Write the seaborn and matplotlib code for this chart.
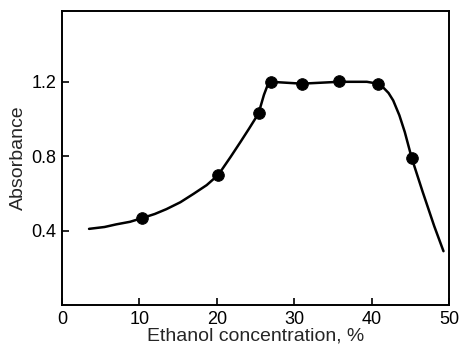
import matplotlib
matplotlib.use("Agg")
import matplotlib.pyplot as plt
import seaborn as sns
import pandas as pd

# measured points
ethanol_pct = [10.3, 20.2, 25.4, 27.0, 31.0, 35.8, 40.8, 45.2]
absorbance = [0.467, 0.70, 1.03, 1.20, 1.19, 1.205, 1.19, 0.79]

# hand-drawn curve
curve_x = [3.5, 5.5, 7.0, 8.8, 10.3, 12.0, 13.5, 15.3, 17.0, 18.7, 20.2, 21.8, 23.1, 24.2,
           25.4, 26.1, 26.7, 27.0, 31.0, 35.8, 39.4, 40.8, 41.5, 42.2, 42.8, 43.6,
           44.3, 45.2, 46.6, 48.1, 49.3]
curve_y = [0.41, 0.42, 0.434, 0.448, 0.467, 0.49, 0.516, 0.553, 0.598, 0.645, 0.70, 0.797,
           0.879, 0.95, 1.03, 1.13, 1.196, 1.20, 1.19, 1.20, 1.20, 1.19, 1.17, 1.14, 1.10,
           1.02, 0.93, 0.79, 0.61, 0.425, 0.29]

x_ticks = [0, 10, 20, 30, 40, 50]
y_ticks = [0.4, 0.8, 1.2]

sns.set_style("ticks")
plt.rcParams['font.family'] = ['Liberation Sans', 'DejaVu Sans']

fig = plt.figure(figsize=(4.59, 3.46), dpi=100)
ax = fig.add_axes([0.135, 0.118, 0.843, 0.850])

curve = pd.DataFrame({"x": curve_x, "y": curve_y})
pts = pd.DataFrame({"x": ethanol_pct, "y": absorbance})

sns.lineplot(data=curve, x="x", y="y", ax=ax, color="black", linewidth=1.8, sort=False)
sns.scatterplot(data=pts, x="x", y="y", ax=ax, color="black", s=70, edgecolor="black", zorder=3)

ax.set_xlim(0, 50)
ax.set_ylim(0, 1.58)
ax.set_xticks(x_ticks)
ax.set_xticklabels([str(t) for t in x_ticks])
ax.set_yticks(y_ticks)
ax.set_yticklabels([f"{t:.1f}" for t in y_ticks])
ax.tick_params(direction="in", length=5, width=1.2, labelsize=13, colors="black", pad=4)
for s in ax.spines.values():
    s.set_linewidth(1.4)
    s.set_color("black")

ax.set_xlabel("Ethanol concentration, %", fontsize=14, labelpad=0)
ax.set_ylabel("Absorbance", fontsize=14, labelpad=3)

fig.savefig("out.png", dpi=100)
